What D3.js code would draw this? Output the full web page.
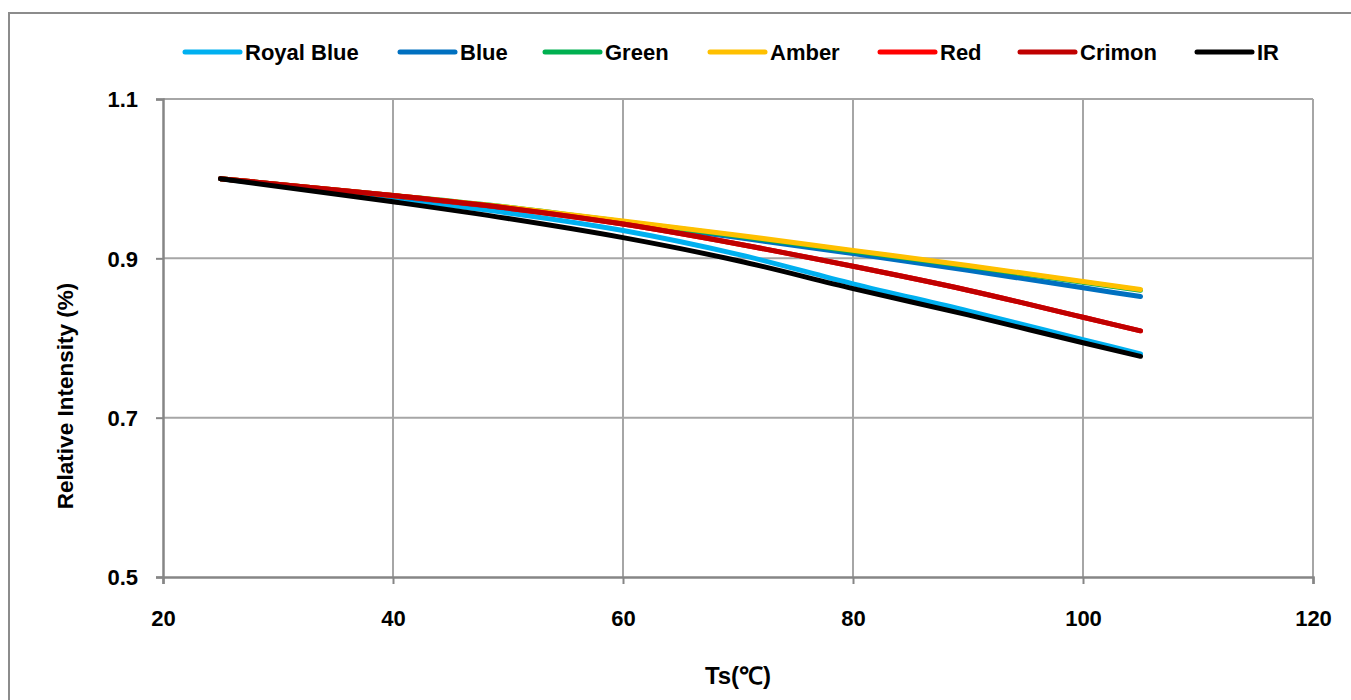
<!DOCTYPE html>
<html>
<head>
<meta charset="utf-8">
<script src="https://cdn.jsdelivr.net/npm/d3@7"></script>
<style>
  html, body { margin: 0; padding: 0; background: #fff; }
  svg { display: block; }
  text { font-family: "Liberation Sans", Arial, sans-serif; font-weight: bold; fill: #000; }
</style>
</head>
<body>
<svg id="chart" width="1351" height="700"></svg>
<script>
// ---- data ----
const temps = [25, 40, 50, 60, 70, 80, 90, 100, 105];
const seriesNames = ["Royal Blue", "Blue", "Green", "Amber", "Red", "Crimon", "IR"];
const royalBlue = [1.0, 0.975, 0.957, 0.935, 0.905, 0.868, 0.834, 0.798, 0.780];
const blue      = [1.0, 0.978, 0.963, 0.945, 0.926, 0.906, 0.885, 0.863, 0.852];
const green     = [1.0, 0.979, 0.964, 0.946, 0.928, 0.909, 0.890, 0.870, 0.860];
const amber     = [1.0, 0.979, 0.964, 0.947, 0.929, 0.910, 0.891, 0.871, 0.861];
const red       = [1.0, 0.979, 0.963, 0.943, 0.918, 0.890, 0.860, 0.826, 0.809];
const crimon    = [1.0, 0.979, 0.963, 0.943, 0.918, 0.890, 0.860, 0.826, 0.809];
const ir        = [1.0, 0.971, 0.950, 0.926, 0.897, 0.862, 0.829, 0.794, 0.777];
const seriesValues = [royalBlue, blue, green, amber, red, crimon, ir];
const seriesColors = ["#00B0F0", "#0070C0", "#00B050", "#FFC000", "#FF0000", "#C00000", "#000000"];
const xTicks = [20, 40, 60, 80, 100, 120];
const yTicks = [0.5, 0.7, 0.9, 1.1];
const xTitle = "Ts(℃)";
const yTitle = "Relative Intensity (%)";

// ---- layout ----
const svg = d3.select("#chart");
const mLeft = 163, mRight = 1313, mTop = 99, mBottom = 577;

const x = d3.scaleLinear().domain([20, 120]).range([mLeft, mRight]);
const y = d3.scaleLinear().domain([0.5, 1.1]).range([mBottom, mTop]);

// outer border
svg.append("rect").attr("x", 9).attr("y", 13).attr("width", 1400).attr("height", 800)
  .attr("fill", "#fff").attr("stroke", "#8c8c8c").attr("stroke-width", 2);

// gridlines
const grid = svg.append("g");
grid.selectAll("line.v").data(xTicks.slice(1)).enter().append("line")
  .attr("x1", d => x(d)).attr("x2", d => x(d)).attr("y1", mTop).attr("y2", mBottom)
  .attr("stroke", "#a6a6a6").attr("stroke-width", 2);
grid.selectAll("line.h").data(yTicks.slice(1)).enter().append("line")
  .attr("x1", mLeft).attr("x2", mRight).attr("y1", d => y(d)).attr("y2", d => y(d))
  .attr("stroke", "#a6a6a6").attr("stroke-width", 2);

// axes
const xAxis = d3.axisBottom(x).tickValues(xTicks).tickSize(7).tickPadding(26).tickFormat(d3.format("d"));
const yAxis = d3.axisLeft(y).tickValues(yTicks).tickSize(7).tickPadding(18).tickFormat(d3.format(".1f"));

const gx = svg.append("g").attr("transform", `translate(0,${mBottom})`).call(xAxis);
const gy = svg.append("g").attr("transform", `translate(${mLeft},0)`).call(yAxis);
[gx, gy].forEach(g => {
  g.select(".domain").attr("stroke", "#868686").attr("stroke-width", 2.5);
  g.selectAll(".tick line").attr("stroke", "#868686").attr("stroke-width", 2);
  g.selectAll(".tick text").style("font-size", "22px").style("font-weight", "bold")
    .style("font-family", "'Liberation Sans', Arial, sans-serif").attr("fill", "#000");
});
gy.selectAll(".tick text").attr("dy", "0.36em");

// lines
const line = d3.line()
  .x((d, i) => x(temps[i]))
  .y(d => y(d))
  .curve(d3.curveMonotoneX);

svg.append("g").selectAll("path").data(seriesValues).enter().append("path")
  .attr("d", d => line(d))
  .attr("fill", "none")
  .attr("stroke", (d, i) => seriesColors[i])
  .attr("stroke-width", 5)
  .attr("stroke-linecap", "round")
  .attr("stroke-linejoin", "round");

// legend
const legendX = [185, 400, 545, 710, 880, 1020, 1197];
const legendY = 52;
const lg = svg.append("g");
seriesNames.forEach((name, i) => {
  lg.append("line").attr("x1", legendX[i]).attr("x2", legendX[i] + 55)
    .attr("y1", legendY).attr("y2", legendY)
    .attr("stroke", seriesColors[i]).attr("stroke-width", 5).attr("stroke-linecap", "round");
  lg.append("text").attr("x", legendX[i] + 60).attr("y", legendY).attr("dy", "0.36em")
    .style("font-size", "22px").text(name);
});

// axis titles
svg.append("text").attr("x", 738).attr("y", 684)
  .attr("text-anchor", "middle").style("font-size", "24px").text(xTitle);
svg.append("text").attr("transform", `translate(73,396) rotate(-90)`)
  .attr("text-anchor", "middle").style("font-size", "22.5px").text(yTitle);
</script>
</body>
</html>
